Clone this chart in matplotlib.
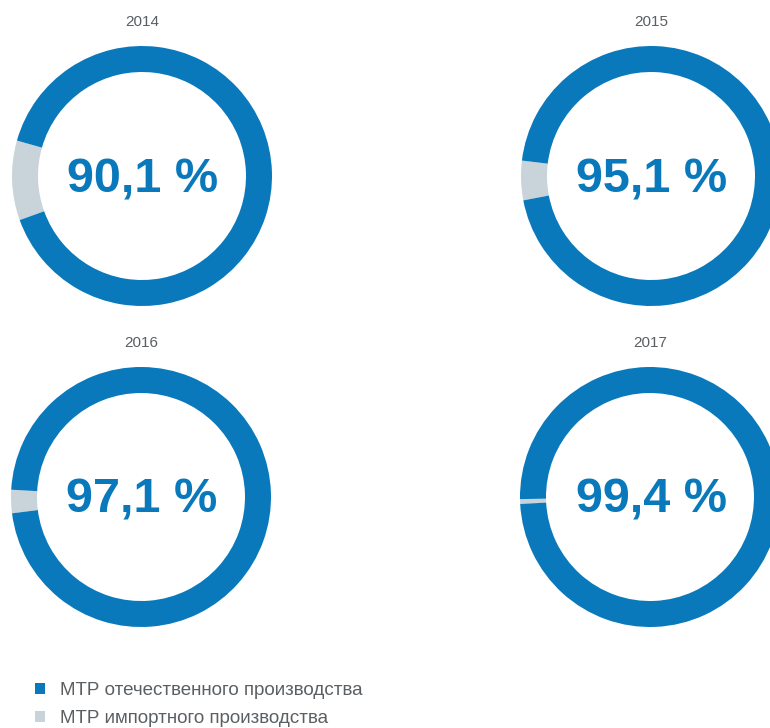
import matplotlib
matplotlib.use("Agg")
import matplotlib.pyplot as plt

years = ["2014", "2015", "2016", "2017"]
domestic = [90.1, 95.1, 97.1, 99.4]
imported = [9.9, 4.9, 2.9, 0.6]
value_labels = ["90,1 %", "95,1 %", "97,1 %", "99,4 %"]
series_names = ["МТР отечественного производства", "МТР импортного производства"]

BLUE = "#0979bb"
GRAY = "#c8d3da"
TXT = "#5a5f63"

W, H = 770, 728
fig = plt.figure(figsize=(W / 100, H / 100), dpi=100)
ax = fig.add_axes([0, 0, 1, 1])

centers = [(142, 176), (651, 176), (141, 497), (650, 497)]
R = 130
RW = 26
gray_center_angle = 182

wedges_first = None
for i, (cx, cy) in enumerate(centers):
    gray_deg = imported[i] / (imported[i] + domestic[i]) * 360
    w, _ = ax.pie([imported[i], domestic[i]], colors=[GRAY, BLUE],
                  startangle=gray_center_angle - gray_deg / 2, counterclock=True,
                  center=(cx, H - cy), radius=R,
                  wedgeprops=dict(width=RW, linewidth=0))
    if wedges_first is None:
        wedges_first = w
    ax.text(cx + 1, H - (cy + 16), value_labels[i], ha="center", va="baseline",
            fontsize=35, fontweight="bold", color=BLUE, family="Liberation Sans")
    ax.text(cx, H - (cy - 150), years[i], ha="center", va="baseline",
            fontsize=11, color=TXT, family="Liberation Sans")

ax.set_xlim(0, W)
ax.set_ylim(0, H)
ax.set_aspect("equal")
ax.axis("off")

leg = ax.legend([wedges_first[1], wedges_first[0]], series_names,
                loc="upper left", bbox_to_anchor=(35 / W, 1 - 682 / H),
                frameon=False, handlelength=0.53, handleheight=0.53,
                handletextpad=0.8, labelspacing=0.58, borderpad=0, borderaxespad=0,
                prop=dict(family="Liberation Sans", size=13.5))
for t in leg.get_texts():
    t.set_color(TXT)

fig.savefig("out.png", dpi=100)
